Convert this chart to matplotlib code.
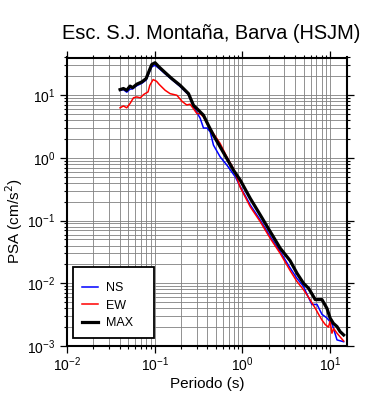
import matplotlib
matplotlib.use("Agg")
import matplotlib.pyplot as plt
import numpy as np
from matplotlib.ticker import LogLocator, NullFormatter
from matplotlib.patches import Rectangle

plt.rcParams['font.family'] = ['Liberation Sans', 'DejaVu Sans']

title = "Esc. S.J. Montaña, Barva (HSJM)"
xlabel = "Periodo (s)"
ylabel = "PSA (cm/s$^2$)"

# MAX
T_max = [0.0403, 0.044, 0.048, 0.0524, 0.056, 0.0625, 0.0713, 0.0798, 0.087, 0.0927,
         0.101, 0.113, 0.1315, 0.157, 0.195, 0.243, 0.277, 0.315, 0.36, 0.41, 0.468,
         0.558, 0.665, 0.79, 0.945, 1.23, 1.6, 2.08, 2.7, 3.5, 4.19, 4.98, 5.7, 6.78,
         8.08, 9.2, 10.0, 10.9, 12.0, 13.0, 14.3]
v_max = [12.3, 12.8, 12.0, 14.0, 13.2, 15.0, 16.3, 18.4, 25.0, 31.0,
         33.0, 28.0, 23.0, 18.4, 14.4, 10.6, 6.9, 5.8, 4.8, 3.3, 2.3,
         1.5, 0.98, 0.64, 0.443, 0.226, 0.123, 0.0665, 0.0363, 0.023, 0.0145, 0.010, 0.0083, 0.0055,
         0.0055, 0.004, 0.0028, 0.0023, 0.00204, 0.0017, 0.0015]

# NS
T_ns = [0.0403, 0.044, 0.048, 0.0524, 0.056, 0.0625, 0.0713, 0.0798, 0.087, 0.0927,
        0.101, 0.113, 0.1315, 0.157, 0.195, 0.243, 0.277, 0.33, 0.36, 0.395, 0.43, 0.468,
        0.558, 0.665, 0.83, 0.945, 1.23, 1.6, 2.08, 2.7, 3.5, 4.19, 4.98, 5.4, 6.2, 7.1,
        8.08, 9.2, 10.6, 12.0, 14.3]
v_ns = [12.0, 12.3, 11.2, 12.5, 12.6, 14.2, 15.5, 17.5, 23.5, 28.5,
        30.0, 26.5, 22.0, 17.8, 13.8, 10.2, 6.6, 4.3, 3.0, 3.0, 2.6, 1.6,
        1.04, 0.77, 0.50, 0.35, 0.178, 0.102, 0.0555, 0.032, 0.0176, 0.012, 0.0089, 0.0069, 0.0046, 0.0046,
        0.0032, 0.0028, 0.0022, 0.00125, 0.00117]

# EW
T_ew = [0.0403, 0.044, 0.048, 0.0524, 0.0573, 0.0625, 0.0685, 0.075, 0.084, 0.088,
        0.096, 0.105, 0.113, 0.1315, 0.15, 0.179, 0.205, 0.22, 0.232, 0.253, 0.277, 0.303, 0.33,
        0.36, 0.395, 0.468, 0.558, 0.665, 0.79, 0.945, 1.23, 1.6, 2.08, 2.7, 3.5, 4.19, 4.98,
        5.9, 6.78, 7.4, 8.08, 8.8, 9.6, 10.0, 10.5, 11.0, 12.0, 13.0, 14.3]
v_ew = [6.3, 6.75, 6.3, 7.4, 9.1, 9.4, 9.1, 10.3, 11.3, 14.4,
        17.8, 16.7, 14.8, 12.0, 10.6, 10.0, 8.0, 7.4, 7.0, 7.2, 6.1, 5.1, 5.1,
        4.5, 3.55, 2.45, 1.7, 1.04, 0.68, 0.34, 0.166, 0.096, 0.052, 0.030, 0.016, 0.0107, 0.0079,
        0.0055, 0.004, 0.0032, 0.0026, 0.0022, 0.0020, 0.0025, 0.0016, 0.0019, 0.0016, 0.0014, 0.0012]

fig = plt.figure(figsize=(3.9, 4.0), dpi=100)
ax = fig.add_axes([67/390, 1-346/400, 280/390, (346-57.5)/400])
ax.set_xscale('log')
ax.set_yscale('log')

ax.plot(T_ns, v_ns, color='#0000ff', lw=1.1, label='NS', zorder=3)
ax.plot(T_ew, v_ew, color='#ff0000', lw=1.1, label='EW', zorder=3)
ax.plot(T_max, v_max, color='black', lw=2.3, label='MAX', zorder=4)

ax.set_xlim(0.01, 15.6)
ax.set_ylim(1e-3, 40)

ax.xaxis.set_major_locator(LogLocator(base=10, numticks=10))
ax.xaxis.set_minor_locator(LogLocator(base=10, subs=np.arange(2, 10), numticks=20))
ax.yaxis.set_major_locator(LogLocator(base=10, numticks=10))
ax.yaxis.set_minor_locator(LogLocator(base=10, subs=np.arange(2, 10), numticks=20))
ax.xaxis.set_minor_formatter(NullFormatter())
ax.yaxis.set_minor_formatter(NullFormatter())

ax.grid(True, which='both', color='#808080', lw=0.6, zorder=1)
ax.tick_params(which='both', direction='out', top=True, right=True, labelsize=10)
ax.tick_params(which='major', length=5, width=0.9)
ax.tick_params(which='minor', length=2.5, width=0.8)
ax.tick_params(axis='x', which='major', pad=2)
for s in ax.spines.values():
    s.set_linewidth(1.5)

ax.set_xlabel(xlabel, fontsize=11, labelpad=2)
ax.set_ylabel(ylabel, fontsize=11)
ax.yaxis.set_label_coords(-0.15, 0.433)
ax.set_title(title, fontsize=14.4, pad=13, x=0.514)

# legend frame
frame = Rectangle((6.3/280, 8/288.5), 80.7/280, 71.3/288.5, transform=ax.transAxes,
                  facecolor='white', edgecolor='black', lw=1.3, zorder=5)
ax.add_patch(frame)
leg = ax.legend(loc='center left', bbox_to_anchor=(14.7/280, 0.1397), fontsize=9,
                frameon=False, borderpad=0, borderaxespad=0,
                handlelength=1.33, labelspacing=0.42, handletextpad=0.62)
leg.set_zorder(6)

fig.savefig('out.png', dpi=100)
